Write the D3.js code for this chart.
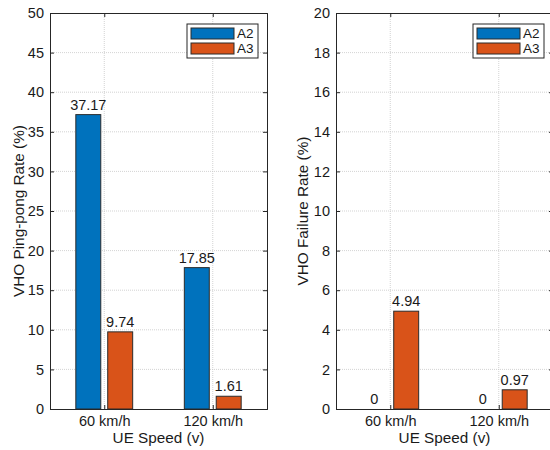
<!DOCTYPE html>
<html>
<head>
<meta charset="utf-8">
<script src="https://cdn.jsdelivr.net/npm/d3@7"></script>
<style>
  html, body { margin: 0; padding: 0; background: #fff; }
  svg { display: block; }
  text { font-family: "Liberation Sans", Arial, Helvetica, sans-serif; fill: #1a1a1a; }
</style>
</head>
<body>
<svg id="chart" width="550" height="450"></svg>
<script>
// ---- data ----
const categories = ["60 km/h", "120 km/h"];
const seriesNames = ["A2", "A3"];
const seriesColors = ["#0072BD", "#D95319"];
const pingPongA2 = [37.17, 17.85];
const pingPongA3 = [9.74, 1.61];
const failureA2 = [0, 0];
const failureA3 = [4.94, 0.97];
const pingPongTicks = [0, 5, 10, 15, 20, 25, 30, 35, 40, 45, 50];
const failureTicks = [0, 2, 4, 6, 8, 10, 12, 14, 16, 18, 20];
const pingPongLabels = ["37.17", "17.85", "9.74", "1.61"];
const failureLabels = ["0", "0", "4.94", "0.97"];

const svg = d3.select("#chart");
const axisColor = "#262626";

function panel(opts) {
  const { left, right, top, bottom, ymax, ticks, a2, a3, labelsA2, labelsA3, ylabel } = opts;
  const g = svg.append("g");
  const x = d3.scaleLinear().domain([0.5, 2.5]).range([left, right]);
  const y = d3.scaleLinear().domain([0, ymax]).range([bottom, top]);

  // grid
  g.selectAll(".hgrid").data(ticks.slice(1, -1)).enter().append("line")
    .attr("x1", left).attr("x2", right)
    .attr("y1", d => y(d)).attr("y2", d => y(d))
    .attr("stroke", "#c8c8c8").attr("stroke-width", 0.8).attr("stroke-dasharray", "1,1");
  g.selectAll(".vgrid").data([1, 2]).enter().append("line")
    .attr("x1", d => x(d)).attr("x2", d => x(d))
    .attr("y1", top).attr("y2", bottom)
    .attr("stroke", "#c8c8c8").attr("stroke-width", 0.8).attr("stroke-dasharray", "1,1");

  // bars
  const off = 0.147, bw = 0.23;
  const series = [a2, a3];
  const labels = [labelsA2, labelsA3];
  series.forEach((vals, s) => {
    const dx = s === 0 ? -off : off;
    g.selectAll(".bar" + s).data(vals).enter().append("rect")
      .attr("x", (d, i) => x(i + 1 + dx - bw / 2))
      .attr("width", x(1 + bw) - x(1))
      .attr("y", d => y(d))
      .attr("height", d => y(0) - y(d))
      .attr("fill", seriesColors[s])
      .attr("stroke", "#2b2b2b").attr("stroke-width", 1);
    g.selectAll(".lab" + s).data(vals).enter().append("text")
      .attr("x", (d, i) => x(i + 1 + dx))
      .attr("y", d => y(d) - 5)
      .attr("text-anchor", "middle")
      .attr("font-size", 14.5)
      .text((d, i) => labels[s][i]);
  });

  // axes
  const yAxis = d3.axisLeft(y).tickValues(ticks).tickSize(-4).tickPadding(6).tickFormat(d3.format("d"));
  const yg = g.append("g").attr("transform", `translate(${left},0)`).call(yAxis);
  const yAxisR = d3.axisRight(y).tickValues(ticks).tickSize(-4).tickFormat("");
  const ygr = g.append("g").attr("transform", `translate(${right},0)`).call(yAxisR);
  const xAxis = d3.axisBottom(x).tickValues([1, 2]).tickSize(-4).tickPadding(7).tickFormat(d => categories[d - 1]);
  const xg = g.append("g").attr("transform", `translate(0,${bottom})`).call(xAxis);
  const xAxisT = d3.axisTop(x).tickValues([1, 2]).tickSize(-4).tickFormat("");
  const xgt = g.append("g").attr("transform", `translate(0,${top})`).call(xAxisT);
  [yg, ygr, xg, xgt].forEach(a => {
    a.select(".domain").attr("stroke", axisColor).attr("stroke-width", 1);
    a.selectAll(".tick line").attr("stroke", axisColor);
    a.selectAll("text").attr("font-size", 14.5).attr("fill", "#1a1a1a")
      .attr("font-family", "'Liberation Sans', Arial, sans-serif");
  });

  // axis labels
  g.append("text")
    .attr("transform", `translate(${left - opts.ylabelGap},${(top + bottom) / 2}) rotate(-90)`)
    .attr("text-anchor", "middle").attr("font-size", 15.3)
    .text(ylabel);
  g.append("text")
    .attr("x", (left + right) / 2).attr("y", bottom + 34)
    .attr("text-anchor", "middle").attr("font-size", 15.3)
    .text("UE Speed (v)");

  // legend
  const lx = opts.legendX, ly = 24, lw = 71, lh = 34;
  const lg = g.append("g");
  lg.append("rect").attr("x", lx).attr("y", ly).attr("width", lw).attr("height", lh)
    .attr("fill", "#fff").attr("stroke", axisColor).attr("stroke-width", 1);
  seriesNames.forEach((name, i) => {
    lg.append("rect").attr("x", lx + 4).attr("y", ly + 4 + i * 15).attr("width", 43).attr("height", 11)
      .attr("fill", seriesColors[i]).attr("stroke", "#2b2b2b").attr("stroke-width", 1);
    lg.append("text").attr("x", lx + 50).attr("y", ly + 14 + i * 15)
      .attr("font-size", 13.5).text(name);
  });
}

panel({ left: 50, right: 267, top: 13, bottom: 409, ymax: 50, ticks: pingPongTicks,
  a2: pingPongA2, a3: pingPongA3,
  labelsA2: pingPongLabels.slice(0, 2), labelsA3: pingPongLabels.slice(2),
  ylabel: "VHO Ping-pong Rate (%)", legendX: 187, ylabelGap: 26 });
panel({ left: 336, right: 553, top: 13, bottom: 409, ymax: 20, ticks: failureTicks,
  a2: failureA2, a3: failureA3,
  labelsA2: failureLabels.slice(0, 2), labelsA3: failureLabels.slice(2),
  ylabel: "VHO Failure Rate (%)", legendX: 473, ylabelGap: 28 });
</script>
</body>
</html>
